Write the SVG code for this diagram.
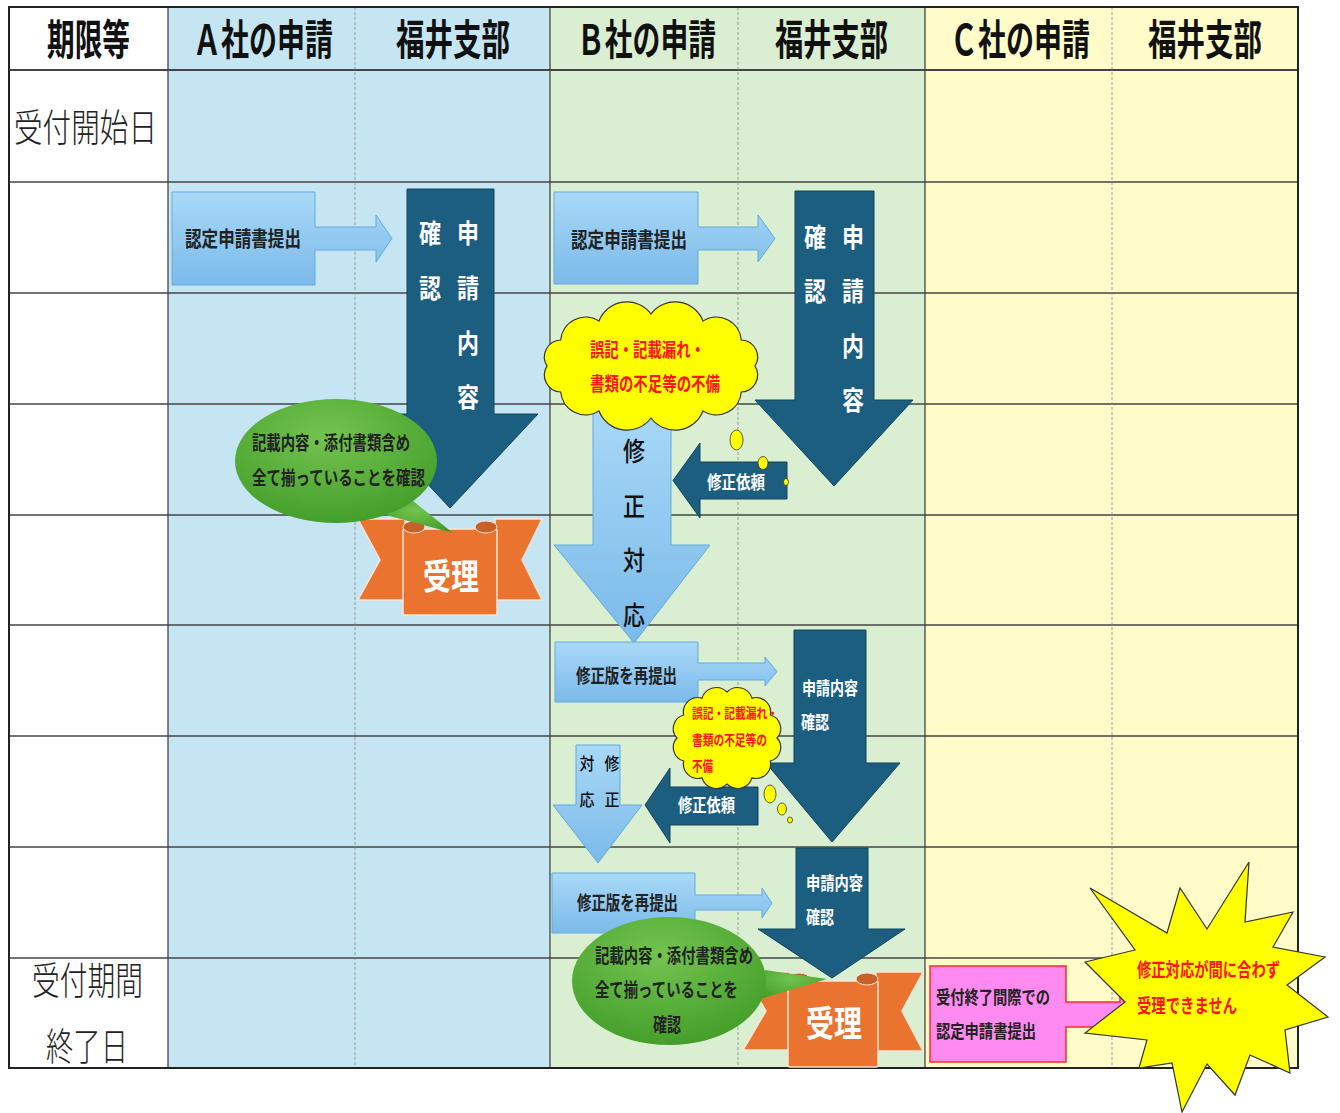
<svg xmlns="http://www.w3.org/2000/svg" width="1340" height="1113" viewBox="0 0 1340 1113">
<defs>
<linearGradient id="gLb" x1="0" y1="0" x2="0" y2="1"><stop offset="0" stop-color="#A9D9F7"/><stop offset="1" stop-color="#7BBAEA"/></linearGradient>
<radialGradient id="gGr" cx="0.45" cy="0.3" r="0.8"><stop offset="0" stop-color="#74C350"/><stop offset="1" stop-color="#3E9A25"/></radialGradient>
<style>
text{font-family:"Noto Sans CJK JP","Noto Sans",sans-serif;}
.hd{font-size:42px;font-weight:700;fill:#111;text-anchor:middle}
.lbl{font-size:38px;font-weight:300;fill:#222;text-anchor:middle}
.lb{fill:url(#gLb);stroke:#62A9DD;stroke-width:1}
.dk{fill:#1B5E7F;stroke:#12445E;stroke-width:1}
.wv{fill:#fff;font-weight:700;font-size:26px;text-anchor:middle}
.wt{fill:#fff;font-weight:700;font-size:18px}
.bt{fill:#222;font-weight:700}
.bv{fill:#111;font-weight:500;font-size:26px;text-anchor:middle}
.sv{fill:#111;font-weight:500;font-size:17px;text-anchor:middle}
.red{fill:#FF1414;font-weight:700}
.cloud{fill:#FFFF00;stroke:#333;stroke-width:1.2}
.dot{fill:#FFFF00;stroke:#333;stroke-width:0.8}
.grn{fill:url(#gGr)}
.rib{fill:#E9732F;stroke:#FBE3D3;stroke-width:1.5}
.curl{fill:#C8602A;stroke:#FBE3D3;stroke-width:1}
.rt{fill:#fff;font-weight:700;font-size:36px;text-anchor:middle}
.row{stroke:#444;stroke-width:1.3}
.dash{stroke:#888;stroke-width:0.8;stroke-dasharray:3 2}
.col{stroke:#444;stroke-width:1.3}
</style>
</defs>

<g id="table">
<rect x="9" y="7" width="159" height="1061" fill="#FFFFFF"/>
<rect x="168" y="7" width="382" height="1061" fill="#C6E5F3"/>
<rect x="550" y="7" width="375" height="1061" fill="#DAEFD1"/>
<rect x="925" y="7" width="373" height="1061" fill="#FFFCC9"/>
<line class="row" x1="9" y1="70" x2="1298" y2="70" style="stroke-width:2"/>
<line class="row" x1="9" y1="182" x2="1298" y2="182"/>
<line class="row" x1="9" y1="293" x2="1298" y2="293"/>
<line class="row" x1="9" y1="404" x2="1298" y2="404"/>
<line class="row" x1="9" y1="515" x2="1298" y2="515"/>
<line class="row" x1="9" y1="625" x2="1298" y2="625"/>
<line class="row" x1="9" y1="736" x2="1298" y2="736"/>
<line class="row" x1="9" y1="847" x2="1298" y2="847"/>
<line class="row" x1="9" y1="958" x2="1298" y2="958"/>
<line class="col" x1="168" y1="7" x2="168" y2="1068"/>
<line class="col" x1="550" y1="7" x2="550" y2="1068"/>
<line class="col" x1="925" y1="7" x2="925" y2="1068"/>
<line class="dash" x1="355" y1="7" x2="355" y2="1068"/>
<line class="dash" x1="738" y1="7" x2="738" y2="1068"/>
<line class="dash" x1="1112" y1="7" x2="1112" y2="1068"/>
<rect x="9" y="7" width="1289" height="1061" fill="none" stroke="#222" stroke-width="2"/>
<text class="hd" x="88.5" y="55" textLength="83" lengthAdjust="spacingAndGlyphs">期限等</text>
<text class="hd" x="263" y="55" textLength="140" lengthAdjust="spacingAndGlyphs">Ａ社の申請</text>
<text class="hd" x="453" y="55" textLength="114" lengthAdjust="spacingAndGlyphs">福井支部</text>
<text class="hd" x="646.5" y="55" textLength="139" lengthAdjust="spacingAndGlyphs">Ｂ社の申請</text>
<text class="hd" x="831.5" y="55" textLength="113" lengthAdjust="spacingAndGlyphs">福井支部</text>
<text class="hd" x="1020" y="55" textLength="140" lengthAdjust="spacingAndGlyphs">Ｃ社の申請</text>
<text class="hd" x="1205" y="55" textLength="114" lengthAdjust="spacingAndGlyphs">福井支部</text>
<text class="lbl" x="85.5" y="141" textLength="143" lengthAdjust="spacingAndGlyphs">受付開始日</text>
<text class="lbl" x="87.5" y="994" textLength="111" lengthAdjust="spacingAndGlyphs">受付期間</text>
<text class="lbl" x="87" y="1060" textLength="82" lengthAdjust="spacingAndGlyphs">終了日</text>
</g>

<g id="a-submit">
<path class="lb" d="M172,192 H315 V227 H376 V215 L392,238.5 L376,262 V250 H315 V285 H172 Z"/>
<text class="bt" x="185" y="246" font-size="21" textLength="116" lengthAdjust="spacingAndGlyphs">認定申請書提出</text>
</g>

<g id="a-check">
<path class="dk" d="M407,189 H494 V414 H538 L450,508 L362,414 H407 Z"/>
<text class="wv" x="430" y="242.5" textLength="22" lengthAdjust="spacingAndGlyphs">確</text>
<text class="wv" x="468" y="242.5" textLength="22" lengthAdjust="spacingAndGlyphs">申</text>
<text class="wv" x="430" y="297.5" textLength="22" lengthAdjust="spacingAndGlyphs">認</text>
<text class="wv" x="468" y="297.5" textLength="22" lengthAdjust="spacingAndGlyphs">請</text>
<text class="wv" x="468" y="352.5" textLength="22" lengthAdjust="spacingAndGlyphs">内</text>
<text class="wv" x="468" y="406.5" textLength="22" lengthAdjust="spacingAndGlyphs">容</text>
</g>

<g id="a-accept">
<path class="rib" d="M358,519 H405 V600 H358 L380,560 Z"/>
<path class="rib" d="M495,519 H542 L522,560 L542,600 H495 Z"/>
<rect class="rib" x="403" y="529" width="94" height="86" rx="2"/>
<ellipse class="curl" cx="414" cy="527" rx="11" ry="6"/>
<ellipse class="curl" cx="486" cy="527" rx="11" ry="6"/>
<text class="rt" x="451" y="590" textLength="56" lengthAdjust="spacingAndGlyphs">受理</text>
</g>

<g id="a-note">
<path class="grn" d="M413,501 L453,533 L386,515 Z"/>
<ellipse class="grn" cx="336" cy="461" rx="101" ry="62"/>
<text class="bt" x="252" y="450" font-size="19" textLength="158" lengthAdjust="spacingAndGlyphs">記載内容・添付書類含め</text>
<text class="bt" x="252" y="485" font-size="19" textLength="173" lengthAdjust="spacingAndGlyphs">全て揃っていることを確認</text>
</g>

<g id="b-submit">
<path class="lb" d="M554,192 H698 V227 H758 V215 L775,238.5 L758,262 V250 H698 V284 H554 Z"/>
<text class="bt" x="571" y="247" font-size="21" textLength="116" lengthAdjust="spacingAndGlyphs">認定申請書提出</text>
</g>

<g id="b-check1">
<path class="dk" d="M795,191 H874 V400 H913 L834,486 L755,400 H795 Z"/>
<text class="wv" x="815" y="246.5" textLength="22" lengthAdjust="spacingAndGlyphs">確</text>
<text class="wv" x="853" y="246.5" textLength="22" lengthAdjust="spacingAndGlyphs">申</text>
<text class="wv" x="815" y="300.5" textLength="22" lengthAdjust="spacingAndGlyphs">認</text>
<text class="wv" x="853" y="300.5" textLength="22" lengthAdjust="spacingAndGlyphs">請</text>
<text class="wv" x="853" y="355.5" textLength="22" lengthAdjust="spacingAndGlyphs">内</text>
<text class="wv" x="853" y="409.5" textLength="22" lengthAdjust="spacingAndGlyphs">容</text>
</g>

<g id="b-fix1">
<path class="lb" d="M593,400 H671 V545 H710 L634,643 L554,545 H593 Z"/>
<text class="bv" x="634" y="460.5" textLength="22" lengthAdjust="spacingAndGlyphs">修</text>
<text class="bv" x="634" y="515.5" textLength="22" lengthAdjust="spacingAndGlyphs">正</text>
<text class="bv" x="634" y="569.5" textLength="22" lengthAdjust="spacingAndGlyphs">対</text>
<text class="bv" x="634" y="624.5" textLength="22" lengthAdjust="spacingAndGlyphs">応</text>
</g>

<g id="b-defect1">
<path class="cloud" d="M755,366 A17,17 0 0,1 741.3,392 A25,25 0 0,1 703,411 A30,30 0 0,1 651,418 A30,30 0 0,1 599,411 A25,25 0 0,1 560.7,392 A17,17 0 0,1 547,366 A17,17 0 0,1 560.7,340 A25,25 0 0,1 599,321 A30,30 0 0,1 651,314 A30,30 0 0,1 703,321 A25,25 0 0,1 741.3,340 A17,17 0 0,1 755,366 Z"/>
<text class="red" x="590" y="357" font-size="19" textLength="115" lengthAdjust="spacingAndGlyphs">誤記・記載漏れ・</text>
<text class="red" x="590" y="391" font-size="19" textLength="130" lengthAdjust="spacingAndGlyphs">書類の不足等の不備</text>
</g>

<g id="b-request1">
<path class="dk" d="M787,462 V499 H700 V518 L673,480.5 L700,443 V462 Z"/>
<text class="wt" x="707" y="488.6" textLength="58" lengthAdjust="spacingAndGlyphs">修正依頼</text>
</g>

<g id="b-resubmit1">
<path class="lb" d="M555,642 H698 V663 H765 V657 L777,671.5 L765,686 V680 H698 V702 H555 Z"/>
<text class="bt" x="576" y="683" font-size="19" textLength="101" lengthAdjust="spacingAndGlyphs">修正版を再提出</text>
</g>

<g id="b-check2">
<path class="dk" d="M794,630 H866 V763 H900 L832,842 L766,763 H794 Z"/>
<text class="wt" x="802" y="694.6" textLength="56" lengthAdjust="spacingAndGlyphs">申請内容</text>
<text class="wt" x="801" y="728.6" textLength="28" lengthAdjust="spacingAndGlyphs">確認</text>
</g>

<g id="b-request2">
<path class="dk" d="M758,787 V825 H670 V843 L645,805 L670,768 V787 Z"/>
<text class="wt" x="678" y="811.6" textLength="57" lengthAdjust="spacingAndGlyphs">修正依頼</text>
</g>

<g id="b-defect2">
<path class="cloud" d="M777,738 A14,14 0 0,1 770.3,761 A14.5,14.5 0 0,1 752,777.8 A15,15 0 0,1 727,784 A15,15 0 0,1 702,777.8 A14.5,14.5 0 0,1 683.7,761 A14,14 0 0,1 677,738 A14,14 0 0,1 683.7,715 A14.5,14.5 0 0,1 702,698.2 A15,15 0 0,1 727,692 A15,15 0 0,1 752,698.2 A14.5,14.5 0 0,1 770.3,715 A14,14 0 0,1 777,738 Z"/>
<text class="red" x="692" y="718" font-size="14" textLength="86" lengthAdjust="spacingAndGlyphs">誤記・記載漏れ・</text>
<text class="red" x="692" y="745" font-size="14" textLength="75" lengthAdjust="spacingAndGlyphs">書類の不足等の</text>
<text class="red" x="692" y="771" font-size="14" textLength="21" lengthAdjust="spacingAndGlyphs">不備</text>
</g>

<g id="b-fix2">
<path class="lb" d="M576,745 H620 V805 H642 L598,863 L553,805 H576 Z"/>
<text class="sv" x="587" y="770" textLength="15" lengthAdjust="spacingAndGlyphs">対</text>
<text class="sv" x="612" y="770" textLength="15" lengthAdjust="spacingAndGlyphs">修</text>
<text class="sv" x="587" y="806" textLength="15" lengthAdjust="spacingAndGlyphs">応</text>
<text class="sv" x="612" y="806" textLength="15" lengthAdjust="spacingAndGlyphs">正</text>
</g>

<g id="b-resubmit2">
<path class="lb" d="M552,873 H695 V895 H762 V888 L772,903 L762,918 V910 H695 V933 H552 Z"/>
<text class="bt" x="577" y="910" font-size="19" textLength="101" lengthAdjust="spacingAndGlyphs">修正版を再提出</text>
</g>

<g id="b-check3">
<path class="dk" d="M796,848 H868 V929 H905 L832,978 L758,929 H796 Z"/>
<text class="wt" x="806" y="889.6" textLength="57" lengthAdjust="spacingAndGlyphs">申請内容</text>
<text class="wt" x="806" y="923.6" textLength="28" lengthAdjust="spacingAndGlyphs">確認</text>
</g>

<g id="b-accept">
<path class="rib" d="M743,972 H790 V1050 H743 L766,1011 Z"/>
<path class="rib" d="M876,972 H923 L902,1011 L923,1051 H876 Z"/>
<rect class="rib" x="788" y="981" width="90" height="86" rx="2"/>
<ellipse class="curl" cx="799" cy="979" rx="11" ry="6"/>
<ellipse class="curl" cx="867" cy="979" rx="11" ry="6"/>
<text class="rt" x="834" y="1037" textLength="56" lengthAdjust="spacingAndGlyphs">受理</text>
</g>

<g id="b-note">
<path class="grn" d="M765,970 L827,979 L760,999 Z"/>
<ellipse class="grn" cx="669" cy="981" rx="97" ry="64"/>
<text class="bt" x="595" y="963" font-size="19" textLength="158" lengthAdjust="spacingAndGlyphs">記載内容・添付書類含め</text>
<text class="bt" x="595" y="997" font-size="19" textLength="143" lengthAdjust="spacingAndGlyphs">全て揃っていることを</text>
<text class="bt" x="653" y="1032" font-size="19" textLength="28" lengthAdjust="spacingAndGlyphs">確認</text>
</g>

<g id="c-submit">
<path d="M930,966 H1066 V1002 H1120 V995 L1140,1014 L1120,1033 V1027 H1066 V1062 H930 Z" fill="#FF8BF0" stroke="#FF2A2A" stroke-width="1.5"/>
<text class="bt" x="936" y="1003.6" font-size="18" textLength="114" lengthAdjust="spacingAndGlyphs">受付終了間際での</text>
<text class="bt" x="936" y="1037.6" font-size="18" textLength="100" lengthAdjust="spacingAndGlyphs">認定申請書提出</text>
</g>

<g id="c-reject">
<polygon class="cloud" points="1249,862 1245,922 1293,912 1273,947 1325,957 1287,985 1328,1017 1285,1030 1290,1073 1250,1055 1235,1095 1207,1064 1182,1112 1172,1063 1139,1068 1147,1040 1085,1033 1125,1002 1085,962 1135,950 1090,888 1167,933 1180,888 1207,929"/>
<text class="red" x="1137" y="977" font-size="19" textLength="143" lengthAdjust="spacingAndGlyphs">修正対応が間に合わず</text>
<text class="red" x="1137" y="1013" font-size="19" textLength="100" lengthAdjust="spacingAndGlyphs">受理できません</text>
</g>

<g id="connectors">
<ellipse class="dot" cx="736.5" cy="440" rx="6.5" ry="10"/>
<ellipse class="dot" cx="763" cy="463" rx="5" ry="6.5"/>
<ellipse class="dot" cx="786" cy="482" rx="2.5" ry="3.5"/>
<ellipse class="dot" cx="770" cy="794" rx="6" ry="9"/>
<ellipse class="dot" cx="782" cy="809" rx="4.5" ry="6"/>
<ellipse class="dot" cx="790" cy="820" rx="2.5" ry="3"/>
</g>
</svg>
